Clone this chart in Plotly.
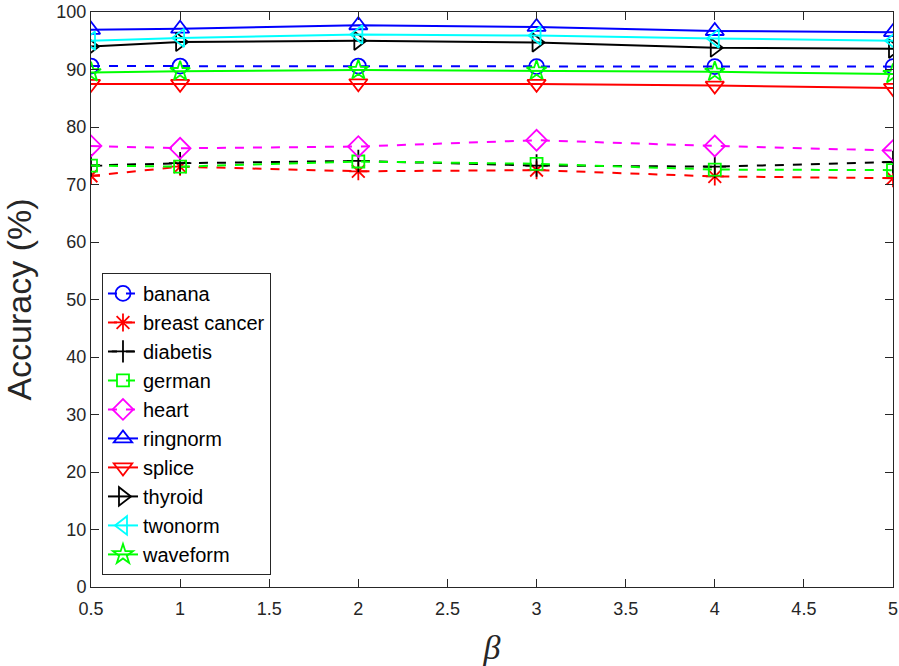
import plotly.graph_objects as go

beta = [0.5, 1, 2, 3, 4, 5]

names = ["banana", "breast cancer", "diabetis", "german", "heart",
         "ringnorm", "splice", "thyroid", "twonorm", "waveform"]

banana = [90.6, 90.6, 90.6, 90.5, 90.5, 90.5]
breast_cancer = [71.5, 73.1, 72.3, 72.5, 71.4, 71.1]
diabetis = [73.3, 73.7, 74.1, 73.3, 73.1, 73.9]
german = [73.3, 73.1, 74.0, 73.6, 72.6, 72.5]
heart = [76.7, 76.3, 76.6, 77.7, 76.7, 75.9]
ringnorm = [96.9, 97.1, 97.7, 97.4, 96.7, 96.5]
splice = [87.5, 87.5, 87.6, 87.5, 87.2, 86.8]
thyroid = [94.0, 94.8, 95.0, 94.7, 93.8, 93.6]
twonorm = [95.0, 95.5, 96.1, 95.9, 95.4, 95.0]
waveform = [89.5, 89.7, 89.9, 89.8, 89.6, 89.2]

series = [banana, breast_cancer, diabetis, german, heart,
          ringnorm, splice, thyroid, twonorm, waveform]
colors = ["#0000ff", "#ff0000", "#000000", "#00ff00", "#ff00ff",
          "#0000ff", "#ff0000", "#000000", "#00ffff", "#00ff00"]
dashes = ["dash", "dash", "dash", "dash", "dash",
          "solid", "solid", "solid", "solid", "solid"]
symbols = ["circle-open", "asterisk-open", "cross-thin-open", "square-open",
           "diamond-open", "triangle-up-open", "triangle-down-open",
           "triangle-right-open", "triangle-left-open", "star-open"]
sizes = [15, 15, 16, 12, 16, 16, 16, 16, 16, 15]

fig = go.Figure()
for n, s, c, d, sym, sz in zip(names, series, colors, dashes, symbols, sizes):
    fig.add_trace(go.Scatter(
        x=beta, y=s, name=n, mode="lines+markers",
        line=dict(color=c, width=2, dash=d),
        marker=dict(symbol=sym, size=sz, color=c, line=dict(color=c, width=1.8)),
    ))

axis_common = dict(
    showline=True, linecolor="#262626", linewidth=1, mirror="ticks",
    ticks="inside", ticklen=8, tickcolor="#262626", tickwidth=1,
    showgrid=False, zeroline=False, automargin=False,
    tickfont=dict(family="Liberation Sans, Arial, sans-serif", size=18, color="#262626"),
)

fig.update_layout(
    width=899, height=666,
    margin=dict(l=91, r=6, t=12, b=79),
    paper_bgcolor="white", plot_bgcolor="white",
    xaxis=dict(range=[0.5, 5], tickmode="array",
               tickvals=[0.5, 1, 1.5, 2, 2.5, 3, 3.5, 4, 4.5, 5],
               ticktext=["0.5", "1", "1.5", "2", "2.5", "3", "3.5", "4", "4.5", "5"],
               ticklabelstandoff=5,
               title=dict(text="<i>β</i>", standoff=18,
                          font=dict(family="Liberation Serif, serif", size=34, color="#262626")),
               **axis_common),
    yaxis=dict(range=[0, 100], tickmode="array",
               tickvals=list(range(0, 101, 10)),
               title=dict(text="Accuracy (%)", standoff=14,
                          font=dict(family="Liberation Sans, Arial, sans-serif", size=34, color="#262626")),
               **axis_common),
    legend=dict(x=0.0137, y=0.021, xanchor="left", yanchor="bottom",
                bordercolor="#262626", borderwidth=1, bgcolor="white",
                font=dict(family="Liberation Sans, Arial, sans-serif", size=20, color="#000000"),
                itemwidth=30, tracegroupgap=0),
    showlegend=True,
)

fig.write_html("out.html")
